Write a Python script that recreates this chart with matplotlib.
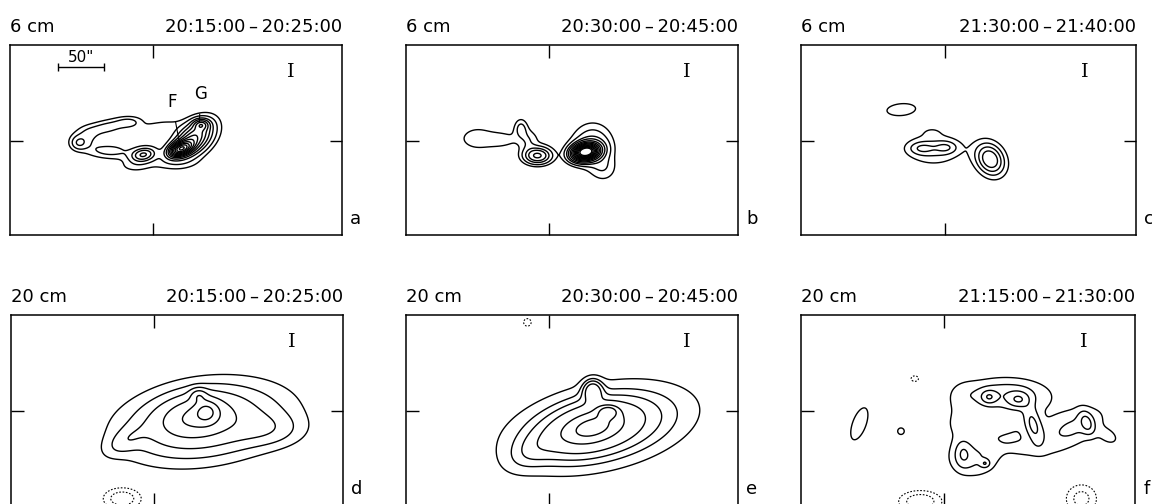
import numpy as np
import matplotlib
matplotlib.use("Agg")
import matplotlib.pyplot as plt

# ---------------------------------------------------------------- map model
# map window in arcsec relative to the reference position (the ticks)
x_range = (-155, 206)
y_range = (-102, 104)

# components: (x0, y0, sigma_x, sigma_y, position angle deg, peak)
src_a = [(-25, 0, 45, 16, 0, 0.045),
         (-80, -2, 6, 5, 0, 0.12),
         (-70, 4, 8, 7, 0, 0.05),
         (-50, 15, 18, 5, 12, 0.08),
         (-25, 20, 9, 4, 0, 0.06),
         (-48, -11, 16, 5, -3, 0.07),
         (5, 13, 16, 5, 15, 0.05),
         (-10, -15, 9, 5, 10, 0.25),
         (30, -9, 9, 5, 20, 0.60),
         (45, 3, 16, 10, 40, 0.40),
         (53, 18, 6, 4, 0, 0.20),
         (20, -24, 22, 6, 0, 0.04),
         (-20, -28, 12, 5, 0, 0.035)]
lev_a = [0.04, 0.08, 0.14, 0.2, 0.27, 0.34, 0.41, 0.48, 0.56, 0.64, 0.72,
         0.8, 0.9]

src_b = [(-45, 2, 35, 8, 0, 0.035),
         (-78, 3, 12, 9, 0, 0.05),
         (-55, 1, 10, 5, 0, 0.035),
         (-30, 14, 5, 7, 0, 0.09),
         (-22, 0, 6, 8, 0, 0.05),
         (-12, -16, 10, 6, 0, 0.30),
         (40, -12, 10, 6, 10, 1.00),
         (48, -5, 14, 15, 0, 0.15),
         (60, -30, 10, 10, 0, 0.06)]
lev_b = [0.04, 0.08, 0.14, 0.2, 0.28, 0.36, 0.44, 0.52, 0.6, 0.68, 0.76,
         0.84, 0.92]

src_c = [(-47, 34, 17, 7, 5, 0.30),
         (-12, -9, 24, 14, 0, 0.35),
         (-26, -8, 10, 5, 0, 0.25),
         (2, -7, 9, 5, 0, 0.25),
         (-14, 10, 8, 4, 0, 0.10),
         (49, -20, 11, 14, 30, 0.80)]
lev_c = [0.2, 0.35, 0.5, 0.65]

src_d = [(55, -12, 54, 25, 8, 0.35),
         (45, -5, 25, 14, 10, 0.28),
         (49, 17, 6, 5, 0, 0.25),
         (58, 0, 9, 9, 0, 0.30),
         (125, -20, 25, 12, 0, 0.10),
         (-30, -32, 16, 8, 30, 0.10),
         (-34, -95, 14, 8, 0, -0.30)]
lev_d = [-0.2, -0.1, 0.05, 0.11, 0.2, 0.35, 0.55, 0.75]

src_e = [(55, -18, 60, 26, 12, 0.28),
         (45, -18, 30, 15, 15, 0.22),
         (48, 22, 7, 8, 0, 0.25),
         (65, 0, 8, 5, 0, 0.20),
         (-20, -45, 20, 12, 30, 0.06),
         (-23, 96, 4, 4, 0, -0.25)]
lev_e = [-0.15, 0.05, 0.1, 0.15, 0.22, 0.35, 0.45]

src_f = [(85, -18, 60, 35, 0, 0.06),
         (65, 18, 30, 12, 0, 0.20),
         (48, 15, 6, 5, 0, 0.20),
         (80, 12, 8, 6, 0, 0.20),
         (96, -15, 6, 14, 15, 0.22),
         (140, -18, 25, 12, 25, 0.14),
         (154, -13, 5, 9, 20, 0.18),
         (88, -42, 22, 7, 0, 0.04),
         (50, -15, 25, 10, 0, 0.04),
         (30, -52, 18, 14, 0, 0.15),
         (20, -46, 6, 10, 0, 0.14),
         (44, -57, 3.5, 3, 0, 0.14),
         (12, -12, 10, 15, 0, 0.05),
         (20, 18, 12, 12, 0, 0.05),
         (178, -28, 9, 6, -30, 0.09),
         (-92, -14, 8, 20, -20, 0.12),
         (-47, -22, 4, 4, 0, 0.11),
         (-32, 35, 4, 3, 0, -0.25),
         (-26, -98, 18, 9, 0, -0.35),
         (148, -95, 14, 13, 0, -0.30)]
lev_f = [-0.25, -0.15, 0.08, 0.16, 0.26, 0.38]

panels = [
    ("6 cm", "20:15:00\u2009\u2013\u200920:25:00", "a", src_a, lev_a),
    ("6 cm", "20:30:00\u2009\u2013\u200920:45:00", "b", src_b, lev_b),
    ("6 cm", "21:30:00\u2009\u2013\u200921:40:00", "c", src_c, lev_c),
    ("20 cm", "20:15:00\u2009\u2013\u200920:25:00", "d", src_d, lev_d),
    ("20 cm", "20:30:00\u2009\u2013\u200920:45:00", "e", src_e, lev_e),
    ("20 cm", "21:15:00\u2009\u2013\u200921:30:00", "f", src_f, lev_f),
]

# axes boxes in pixels: left, top, width, height
boxes = [(10, 45, 332, 190), (406, 45, 332, 190), (801, 45, 335, 190),
         (11, 315, 332, 190), (406, 315, 332, 190), (801, 315, 334, 190)]

W, H = 1152, 504
xg = np.linspace(*x_range, 480)
yg = np.linspace(*y_range, 280)
X, Y = np.meshgrid(xg, yg)


def brightness(comps):
    Z = np.zeros_like(X)
    for x0, y0, sx, sy, pa, amp in comps:
        t = np.radians(pa)
        dx, dy = X - x0, Y - y0
        u = dx * np.cos(t) + dy * np.sin(t)
        v = -dx * np.sin(t) + dy * np.cos(t)
        Z += amp * np.exp(-0.5 * ((u / sx) ** 2 + (v / sy) ** 2))
    return Z


fig = plt.figure(figsize=(W / 100, H / 100), dpi=100)
plt.rcParams['font.family'] = 'DejaVu Sans'

for (band, span, tag, comps, levels), (l, t, w, h) in zip(panels, boxes):
    ax = fig.add_axes([l / W, 1 - (t + h) / H, w / W, h / H])
    Z = brightness(comps)
    neg = [v for v in levels if v < 0]
    pos = [v for v in levels if v > 0]
    if neg:
        ax.contour(X, Y, Z, levels=neg, colors='k', linewidths=0.8,
                   linestyles=[(0, (1.5, 1.5))])
    ax.contour(X, Y, Z, levels=pos, colors='k', linewidths=1.0,
               linestyles='solid')
    ax.set_xlim(*x_range)
    ax.set_ylim(*y_range)
    ax.set_xticks([0])
    ax.set_yticks([0])
    ax.tick_params(direction='in', length=9, width=1.0, top=True, right=True,
                   labelbottom=False, labelleft=False)
    for s in ax.spines.values():
        s.set_linewidth(1.1)
    ax.text(0.0, 1.045, band, transform=ax.transAxes, fontsize=13,
            ha='left', va='bottom')
    ax.text(1.0, 1.045, span, transform=ax.transAxes, fontsize=13,
            ha='right', va='bottom')
    ax.text(1.025, 0.035, tag, transform=ax.transAxes, fontsize=13,
            ha='left', va='bottom')
    ax.text(0.846, 0.86, "I", transform=ax.transAxes, fontsize=14,
            family='DejaVu Serif', ha='center', va='center')
    if tag == "a":
        # 50 arcsec scale bar and source labels
        ax.errorbar([-78], [80], xerr=[25], fmt='none', ecolor='k',
                    elinewidth=1.0, capsize=3, capthick=1.0)
        ax.text(-78, 82, '50"', fontsize=11, ha='center', va='bottom')
        ax.annotate("F", xy=(30, -6), xytext=(21, 42), fontsize=12,
                    ha='center', va='center',
                    arrowprops=dict(arrowstyle='-', lw=0.8, shrinkA=6,
                                    shrinkB=0))
        ax.annotate("G", xy=(51, 20), xytext=(52, 51), fontsize=12,
                    ha='center', va='center',
                    arrowprops=dict(arrowstyle='-', lw=0.8, shrinkA=6,
                                    shrinkB=0))

fig.savefig("out.png", dpi=100)
